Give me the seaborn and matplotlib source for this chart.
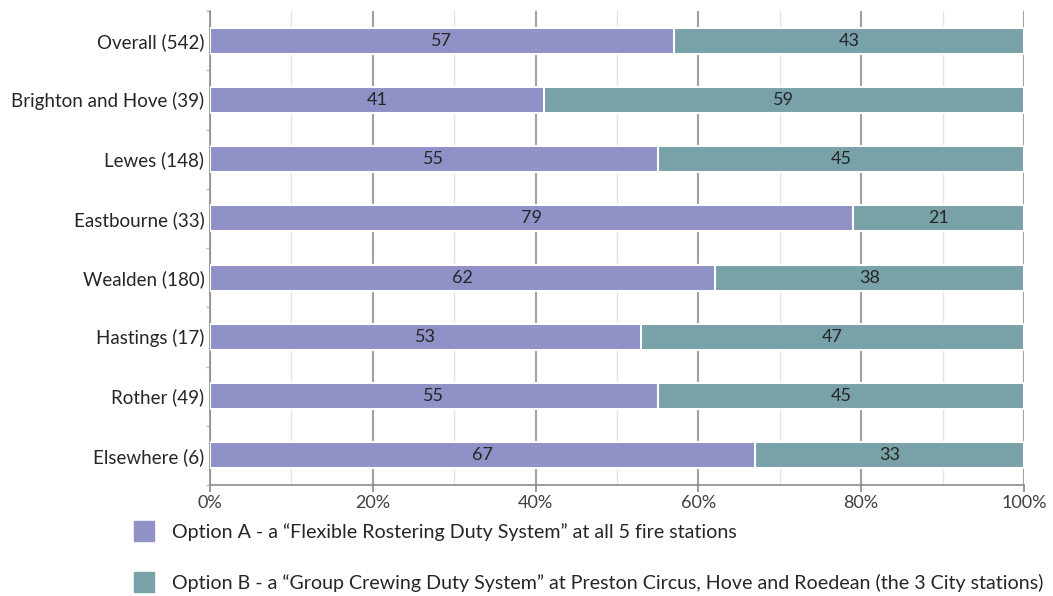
import matplotlib
matplotlib.use("Agg")
import matplotlib.pyplot as plt
from matplotlib.lines import Line2D
from matplotlib.ticker import MultipleLocator, PercentFormatter
import seaborn as sns
import pandas as pd

areas = ["Overall (542)", "Brighton and Hove (39)", "Lewes (148)", "Eastbourne (33)",
         "Wealden (180)", "Hastings (17)", "Rother (49)", "Elsewhere (6)"]
option_a = [57, 41, 55, 79, 62, 53, 55, 67]
option_b = [43, 59, 45, 21, 38, 47, 45, 33]
legend_labels = [
    "Option A - a \u201cFlexible Rostering Duty System\u201d at all 5 fire stations",
    "Option B - a \u201cGroup Crewing Duty System\u201d at Preston Circus, Hove and Roedean (the 3 City stations)",
]

color_a = "#8f91c7"
color_b = "#79a1a8"
text_color = "#262626"

sns.set_theme(style="white")
plt.rcParams["font.family"] = ["Lato", "DejaVu Sans"]

df = pd.DataFrame({"area": areas, "a": option_a, "b": option_b})
df["total"] = df["a"] + df["b"]

fig = plt.figure(figsize=(10.53, 5.96), dpi=100)
ax = fig.add_axes([0.1994, 0.1862, 0.773, 0.7953])

# stacked bars: full total in B colour, A drawn over it
sns.barplot(data=df, y="area", x="total", color=color_b, orient="h", width=0.44,
            edgecolor="white", linewidth=1.5, saturation=1, ax=ax, zorder=3)
sns.barplot(data=df, y="area", x="a", color=color_a, orient="h", width=0.44,
            edgecolor="white", linewidth=1.5, saturation=1, ax=ax, zorder=4)

for i, (a, b) in enumerate(zip(option_a, option_b)):
    ax.text(a / 2, i, f"{a}", ha="center", va="center", fontsize=13,
            color=text_color, zorder=5)
    ax.text(a + b / 2, i, f"{b}", ha="center", va="center", fontsize=13,
            color=text_color, zorder=5)

ax.set_xlim(0, 100)
ax.set_ylim(7.5, -0.5)
ax.xaxis.set_major_locator(MultipleLocator(20))
ax.xaxis.set_minor_locator(MultipleLocator(10))
ax.xaxis.set_major_formatter(PercentFormatter(100, decimals=0))
ax.yaxis.set_minor_locator(MultipleLocator(1, offset=0.5))
ax.grid(True, axis="x", which="major", color="#a0a0a0", linewidth=1.5, zorder=0)
ax.grid(True, axis="x", which="minor", color="#e4e4e4", linewidth=1.0, zorder=0)
ax.set_axisbelow(True)
ax.set_xlabel("")
ax.set_ylabel("")

for side in ["top", "right"]:
    ax.spines[side].set_visible(False)
for side in ["left", "bottom"]:
    ax.spines[side].set_color("#8c8c8c")
    ax.spines[side].set_linewidth(1.2)

ax.tick_params(axis="x", which="major", length=5, color="#8c8c8c", labelsize=13,
               labelcolor="#404040", bottom=True, pad=2)
ax.tick_params(axis="x", which="minor", length=0)
ax.tick_params(axis="y", which="major", length=0, labelsize=13.5,
               labelcolor=text_color, pad=4)
ax.tick_params(axis="y", which="minor", length=3, color="#bdbdbd", left=True)

handles = [Line2D([0], [0], marker="s", linestyle="", markersize=14,
                  markerfacecolor=c, markeredgecolor=c) for c in (color_a, color_b)]
fig.legend(handles, legend_labels, loc="upper left", bbox_to_anchor=(0.118, 0.136),
           frameon=False, fontsize=14.1, labelspacing=1.68, handletextpad=0.85,
           handlelength=1.2, labelcolor=text_color, borderaxespad=0)

fig.savefig("out.png", dpi=100)
